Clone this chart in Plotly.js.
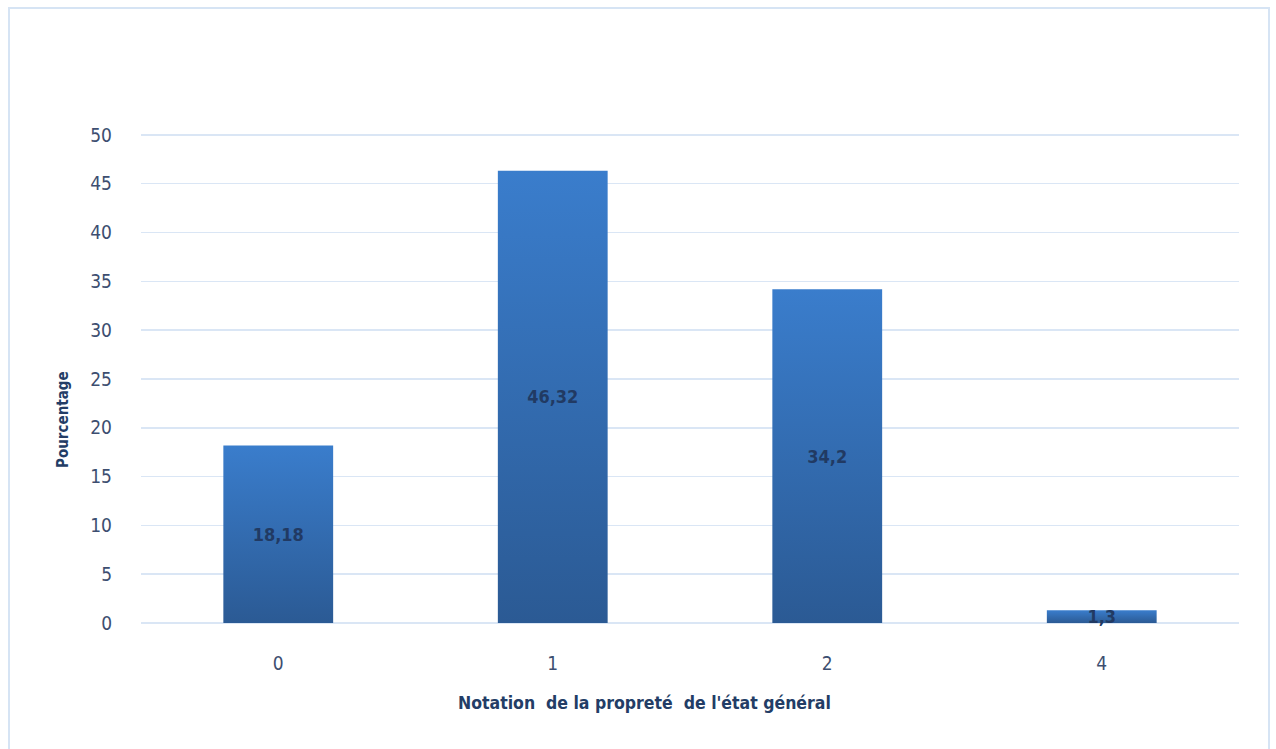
<!DOCTYPE html>
<html>
<head>
<meta charset="utf-8">
<script src="https://cdn.plot.ly/plotly-3.0.1.min.js"></script>
<style>
html,body{margin:0;padding:0;background:#fff;}
#frame{position:absolute;left:8px;top:7px;width:1262px;height:760px;border:2px solid #d6e4f4;box-sizing:border-box;}
#chart{position:absolute;left:0;top:0;width:1276px;height:749px;}
</style>
</head>
<body>
<div id="frame"></div>
<div id="chart"></div>
<script>
const categories = ['0', '1', '2', '4'];
const percentages = [18.18, 46.32, 34.2, 1.3];
const yTickValues = [0, 5, 10, 15, 20, 25, 30, 35, 40, 45, 50];

const FONT = '"DejaVu Sans Condensed", "Liberation Sans Narrow", "Liberation Sans", Arial, sans-serif';
const TICKCOL = '#3d4e70';

const trace = {
  type: 'bar',
  x: categories,
  y: percentages,
  marker: {color: '#3168ab', line: {width: 0}},
  texttemplate: '%{y}',
  textposition: 'inside',
  insidetextanchor: 'middle',
  constraintext: 'none',
  cliponaxis: false,
  textfont: {family: FONT, size: 18, color: '#213a63', weight: 'bold'},
  hoverinfo: 'x+y'
};

const layout = {
  width: 1276, height: 749,
  margin: {l: 141, r: 37, t: 130, b: 126},
  paper_bgcolor: 'rgba(0,0,0,0)',
  plot_bgcolor: 'rgba(0,0,0,0)',
  separators: ', ',
  bargap: 0.6,
  showlegend: false,
  font: {family: FONT, color: TICKCOL},
  xaxis: {
    type: 'category',
    showgrid: false,
    showline: false,
    zeroline: false,
    ticks: '',
    ticklabelstandoff: 27,
    tickfont: {family: FONT, size: 19, color: TICKCOL}
  },
  yaxis: {
    range: [0, 50.5],
    tickvals: yTickValues,
    showgrid: true,
    gridcolor: '#dae6f5',
    gridwidth: 1.5,
    zeroline: true,
    zerolinecolor: '#dae6f5',
    zerolinewidth: 1.5,
    showline: false,
    ticks: '',
    ticklabelstandoff: 28,
    tickfont: {family: FONT, size: 19, color: TICKCOL}
  },
  annotations: [{
    text: 'Pourcentage',
    xref: 'paper', yref: 'paper',
    x: -0.071, y: 0.412,
    xanchor: 'center', yanchor: 'middle',
    textangle: -90,
    showarrow: false,
    font: {family: FONT, size: 15, color: '#233d66', weight: 'bold'}
  }, {
    text: "Notation  de la propreté  de l'état général",
    xref: 'paper', yref: 'paper',
    x: (644 - 141) / 1098, y: -(703 - 623) / 493,
    xanchor: 'center', yanchor: 'middle',
    showarrow: false,
    font: {family: FONT, size: 17.5, color: '#233d66', weight: 'bold'}
  }]
};

Plotly.newPlot('chart', [trace], layout, {displayModeBar: false, staticPlot: true}).then(function(gd){
  const svg = gd.querySelector('svg.main-svg');
  const ns = 'http://www.w3.org/2000/svg';
  let defs = svg.querySelector('defs');
  const grad = document.createElementNS(ns, 'linearGradient');
  grad.setAttribute('id', 'barGrad');
  grad.setAttribute('x1', '0'); grad.setAttribute('y1', '0');
  grad.setAttribute('x2', '0'); grad.setAttribute('y2', '1');
  [['0', '#3a7dcc'], ['1', '#2b5a94']].forEach(function(s){
    const st = document.createElementNS(ns, 'stop');
    st.setAttribute('offset', s[0]);
    st.setAttribute('stop-color', s[1]);
    grad.appendChild(st);
  });
  defs.appendChild(grad);
  gd.querySelectorAll('.bars .point path').forEach(function(p){
    p.style.fill = 'url(#barGrad)';
  });
});
</script>
</body>
</html>
